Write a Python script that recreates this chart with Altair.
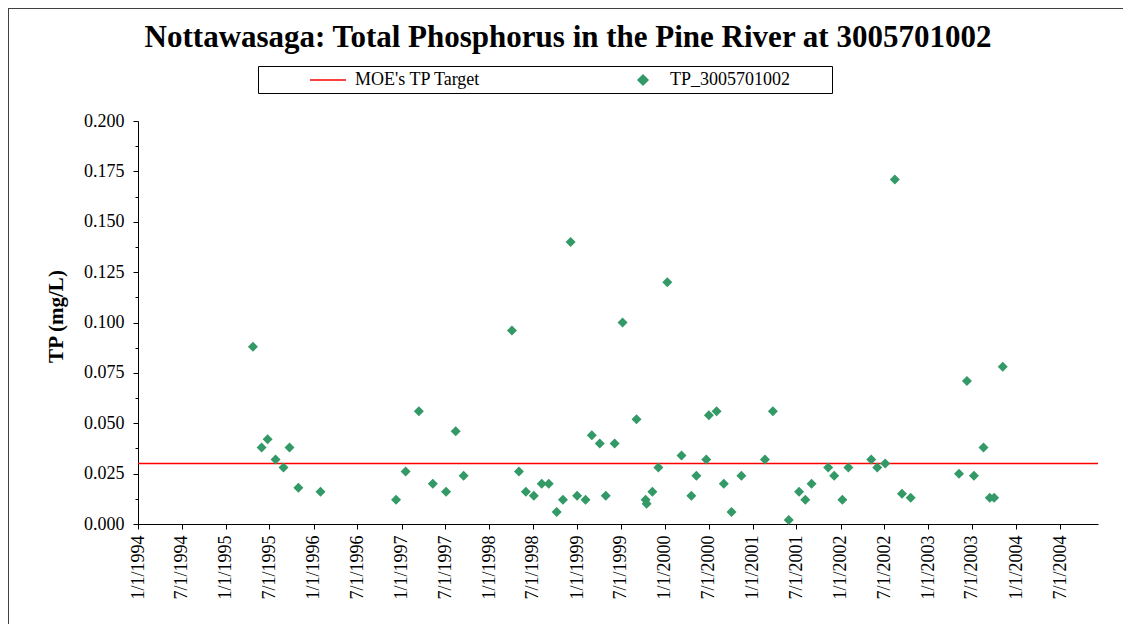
import altair as alt
import pandas as pd

# ---------------- data ----------------
sample_dates = [
    "1995-04-24", "1995-05-30", "1995-06-24", "1995-07-27", "1995-08-29", "1995-09-23",
    "1995-10-30", "1996-01-30", "1996-12-09", "1997-01-18", "1997-03-14", "1997-05-11",
    "1997-07-05", "1997-08-14", "1997-09-16", "1998-04-05", "1998-05-04", "1998-06-02",
    "1998-07-05", "1998-08-07", "1998-09-05", "1998-10-08", "1998-11-03", "1998-12-05",
    "1999-01-01", "1999-02-05", "1999-03-03", "1999-04-05", "1999-04-30", "1999-06-06",
    "1999-07-09", "1999-09-05", "1999-10-13", "1999-10-17", "1999-11-10", "1999-12-05",
    "2000-01-11", "2000-03-10", "2000-04-20", "2000-05-11", "2000-06-21", "2000-07-02",
    "2000-08-03", "2000-09-02", "2000-10-04", "2000-11-14", "2001-02-20", "2001-03-25",
    "2001-05-30", "2001-07-12", "2001-08-07", "2001-09-02", "2001-11-10", "2001-12-05",
    "2002-01-08", "2002-02-02", "2002-05-08", "2002-06-02", "2002-07-05", "2002-08-14",
    "2002-09-13", "2002-10-19", "2003-05-08", "2003-06-10", "2003-07-09", "2003-08-18",
    "2003-09-13", "2003-10-01", "2003-11-06",
]
tp_values = [
    0.088, 0.038, 0.042, 0.032, 0.028, 0.038,
    0.018, 0.016, 0.012, 0.026, 0.056, 0.020,
    0.016, 0.046, 0.024, 0.096, 0.026, 0.016,
    0.014, 0.020, 0.020, 0.006, 0.012, 0.140,
    0.014, 0.012, 0.044, 0.040, 0.014, 0.040,
    0.100, 0.052, 0.012, 0.010, 0.016, 0.028,
    0.120, 0.034, 0.014, 0.024, 0.032, 0.054,
    0.056, 0.020, 0.006, 0.024, 0.032, 0.056,
    0.002, 0.016, 0.012, 0.020, 0.028, 0.024,
    0.012, 0.028, 0.032, 0.028, 0.030, 0.171,
    0.015, 0.013, 0.025, 0.071, 0.024, 0.038,
    0.013, 0.013, 0.078,
]
target_value = [0.030]

series_names = ["MOE's TP Target", "TP_3005701002"]
series_colors = ["#ff0000", "#339966"]
series_shapes = ["stroke", "diamond"]

tick_years = [1994, 1995, 1996, 1997, 1998, 1999, 2000, 2001, 2002, 2003, 2004]
tick_months = [1, 7]
y_tick_values = [0.0, 0.0125, 0.025, 0.0375, 0.05, 0.0625, 0.075, 0.0875, 0.1,
                 0.1125, 0.125, 0.1375, 0.15, 0.1625, 0.175, 0.1875, 0.2]

title_text = "Nottawasaga: Total Phosphorus in the Pine River at 3005701002"
y_title = "TP (mg/L)"

FONT = "Liberation Serif"

# ---------------- tables ----------------
points_df = pd.DataFrame({"date": sample_dates, "tp": tp_values, "series": series_names[1]})
target_df = pd.DataFrame({"tp": target_value, "series": [series_names[0]]})
deco_df = pd.DataFrame({"k": [0]})

x_ticks = [alt.DateTime(year=y, month=m, date=1, utc=True) for y in tick_years for m in tick_months]

x_scale = alt.Scale(
    type="utc",
    domain=[alt.DateTime(year=1994, month=1, date=1, utc=True),
            alt.DateTime(year=2004, month=12, date=6, utc=True)],
)
y_scale = alt.Scale(domain=[0, 0.2], nice=False, zero=True)

x_axis = alt.Axis(
    values=x_ticks,
    labelExpr="utcFormat(datum.value, '%-m/%-d/%Y')",
    labelAngle=270,
    labelFont=FONT,
    labelFontSize=18,
    labelColor="black",
    labelPadding=6,
    labelOverlap=False,
    labelFlush=False,
    tickSize=5,
    tickColor="black",
    domainColor="black",
    grid=False,
    title=None,
)

major_test = "round(datum.value*10000) % 250 == 0"
y_axis = alt.Axis(
    values=y_tick_values,
    labelExpr=f"{major_test} ? format(datum.value, '.3f') : ''",
    labelFont=FONT,
    labelFontSize=18,
    labelColor="black",
    labelPadding=9,
    labelOverlap=False,
    labelFlush=False,
    tickSize={"condition": {"test": major_test, "value": 5}, "value": 3},
    tickColor="black",
    domainColor="black",
    grid=False,
    title=y_title,
    titleFont=FONT,
    titleFontSize=21,
    titleFontWeight="bold",
    titleColor="black",
    titleAngle=270,
    titleBaseline="middle",
    titleAlign="center",
    titleX=-82,
    titleY=195,
)

nbsp = "\u00a0"
legend = alt.Legend(
    title=nbsp,
    titleOrient="left",
    titlePadding=56,
    titleFont=FONT,
    titleFontSize=17,
    orient="none",
    legendX=120,
    legendY=-55,
    direction="horizontal",
    labelFont=FONT,
    labelFontSize=18,
    labelColor="black",
    labelOffset=18,
    labelLimit=400,
    symbolSize=alt.ExprRef("datum.value == \"MOE's TP Target\" ? 1296 : 100"),
    symbolStrokeColor=alt.ExprRef("scale('color', datum.value)"),
    symbolStrokeWidth=1.5,
    symbolOpacity=1,
    columnPadding=153,
    padding=5,
)

color_enc = alt.Color("series:N", scale=alt.Scale(domain=series_names, range=series_colors), legend=legend)
shape_enc = alt.Shape("series:N", scale=alt.Scale(domain=series_names, range=series_shapes), legend=legend)

target_rule = alt.Chart(target_df).mark_rule(strokeWidth=1.5).encode(
    y=alt.Y("tp:Q", scale=y_scale, axis=y_axis),
    color=color_enc,
)

points = alt.Chart(points_df).mark_point(filled=True, size=100, opacity=1).encode(
    x=alt.X("date:T", scale=x_scale, axis=x_axis),
    y=alt.Y("tp:Q", scale=y_scale, axis=y_axis),
    color=color_enc,
    shape=shape_enc,
)

# decorations: outer chart frame (left and top edges) and the legend box
frame_left = alt.Chart(deco_df).mark_rule(color="#404040", strokeWidth=2).encode(
    x=alt.value(-130), y=alt.value(-113), y2=alt.value(520)
)
frame_top = alt.Chart(deco_df).mark_rule(color="#404040", strokeWidth=2).encode(
    x=alt.value(-130), x2=alt.value(1000), y=alt.value(-113)
)
legend_box = alt.Chart(deco_df).mark_rect(fill="white", stroke="black", strokeWidth=1).encode(
    x=alt.value(120.5), x2=alt.value(694.5), y=alt.value(-54.5), y2=alt.value(-27.5)
)

chart = alt.layer(frame_left, frame_top, legend_box, target_rule, points).properties(
    width=960,
    height=403,
    autosize=alt.AutoSizeParams(type="none"),
    padding={"left": 130, "top": 113, "right": 25, "bottom": 100},
    background="white",
    title=alt.TitleParams(
        text=title_text,
        font=FONT,
        fontSize=31,
        fontWeight="bold",
        color="black",
        anchor="middle",
        dx=-50,
        offset=-47,
    ),
).configure(
    font=FONT,
).configure_view(
    stroke=None,
).configure_axis(
    labelFont=FONT,
    titleFont=FONT,
).configure_legend(
    labelFont=FONT,
    titleFont=FONT,
)

chart.save("out.html", embed_options={"renderer": "svg", "actions": False})
